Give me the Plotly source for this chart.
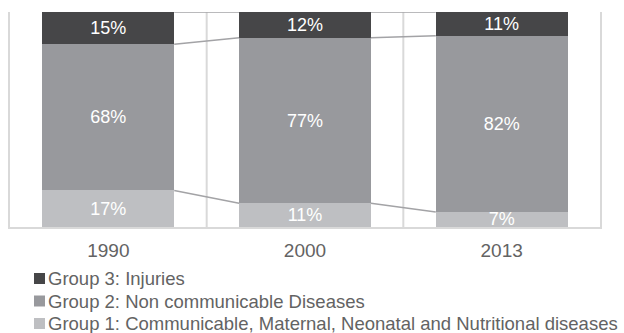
import numpy as np
import plotly.graph_objects as go

years = ["1990", "2000", "2013"]
series_names = [
    "Group 1: Communicable, Maternal, Neonatal and Nutritional diseases",
    "Group 2: Non communicable Diseases",
    "Group 3: Injuries",
]
group1 = [17, 11, 7]
group2 = [68, 77, 82]
group3 = [15, 12, 11]
colors = ["#bebfc2", "#98999d", "#464648"]

values = [group1, group2, group3]
xpos = list(range(len(years)))
bar_w = 0.67
font_family = "Liberation Sans, Arial, sans-serif"
text_gray = "#636363"

fig = go.Figure()
for name, vals, col in zip(series_names, values, colors):
    fig.add_trace(go.Bar(
        x=xpos, y=vals, name=name, width=bar_w,
        marker=dict(color=col, line=dict(width=0)),
        text=[f"{v}%" for v in vals], textposition="inside",
        insidetextanchor="middle", constraintext="none",
        textfont=dict(color="white", size=18, family=font_family),
        showlegend=False,
    ))

shapes = []
# category separators
for b in [0.5, 1.5]:
    shapes.append(dict(type="line", xref="x", yref="paper", x0=b, x1=b, y0=0, y1=1,
                       line=dict(color="#d9d9d9", width=2), layer="below"))
# series lines between bars
cum = np.cumsum(np.array(values), axis=0)
for level in cum:
    for i in range(len(years) - 1):
        shapes.append(dict(type="line", xref="x", yref="y",
                           x0=xpos[i] + bar_w / 2, x1=xpos[i + 1] - bar_w / 2,
                           y0=float(level[i]), y1=float(level[i + 1]),
                           line=dict(color="#a3a3a6", width=1.5)))

# legend (custom, top item first)
plot_l, plot_w, plot_b, plot_h = 10, 590, 227, 215
annotations = []
row_y = [278.5, 301, 323.5]
for k, idx in enumerate([2, 1, 0]):
    py = row_y[k]
    yp = (plot_b - py) / plot_h
    half = 5.5 / plot_h
    shapes.append(dict(type="rect", xref="paper", yref="paper",
                       x0=(34 - plot_l) / plot_w, x1=(45 - plot_l) / plot_w,
                       y0=yp - half, y1=yp + half,
                       fillcolor=colors[idx], line=dict(width=0)))
    annotations.append(dict(xref="paper", yref="paper", x=(46 - plot_l) / plot_w, y=yp,
                            xanchor="left", yanchor="middle", showarrow=False,
                            text=series_names[idx],
                            font=dict(size=18.5, color=text_gray, family=font_family)))

fig.update_layout(
    barmode="stack",
    width=624, height=333,
    margin=dict(l=10, r=24, t=12, b=106),
    paper_bgcolor="white", plot_bgcolor="white",
    shapes=shapes, annotations=annotations,
    font=dict(family=font_family, color=text_gray),
    xaxis=dict(range=[-0.5, 2.5], tickvals=xpos, ticktext=years, showgrid=False,
               zeroline=False, showline=True, linecolor="#d9d9d9", linewidth=2,
               ticks="", ticklabelstandoff=5,
               tickfont=dict(size=19, color=text_gray, family=font_family)),
    yaxis=dict(range=[0, 100], showgrid=False, zeroline=False, showticklabels=False,
               showline=True, mirror=True, linecolor="#d9d9d9", linewidth=2, ticks=""),
)

fig.write_html("out.html")
